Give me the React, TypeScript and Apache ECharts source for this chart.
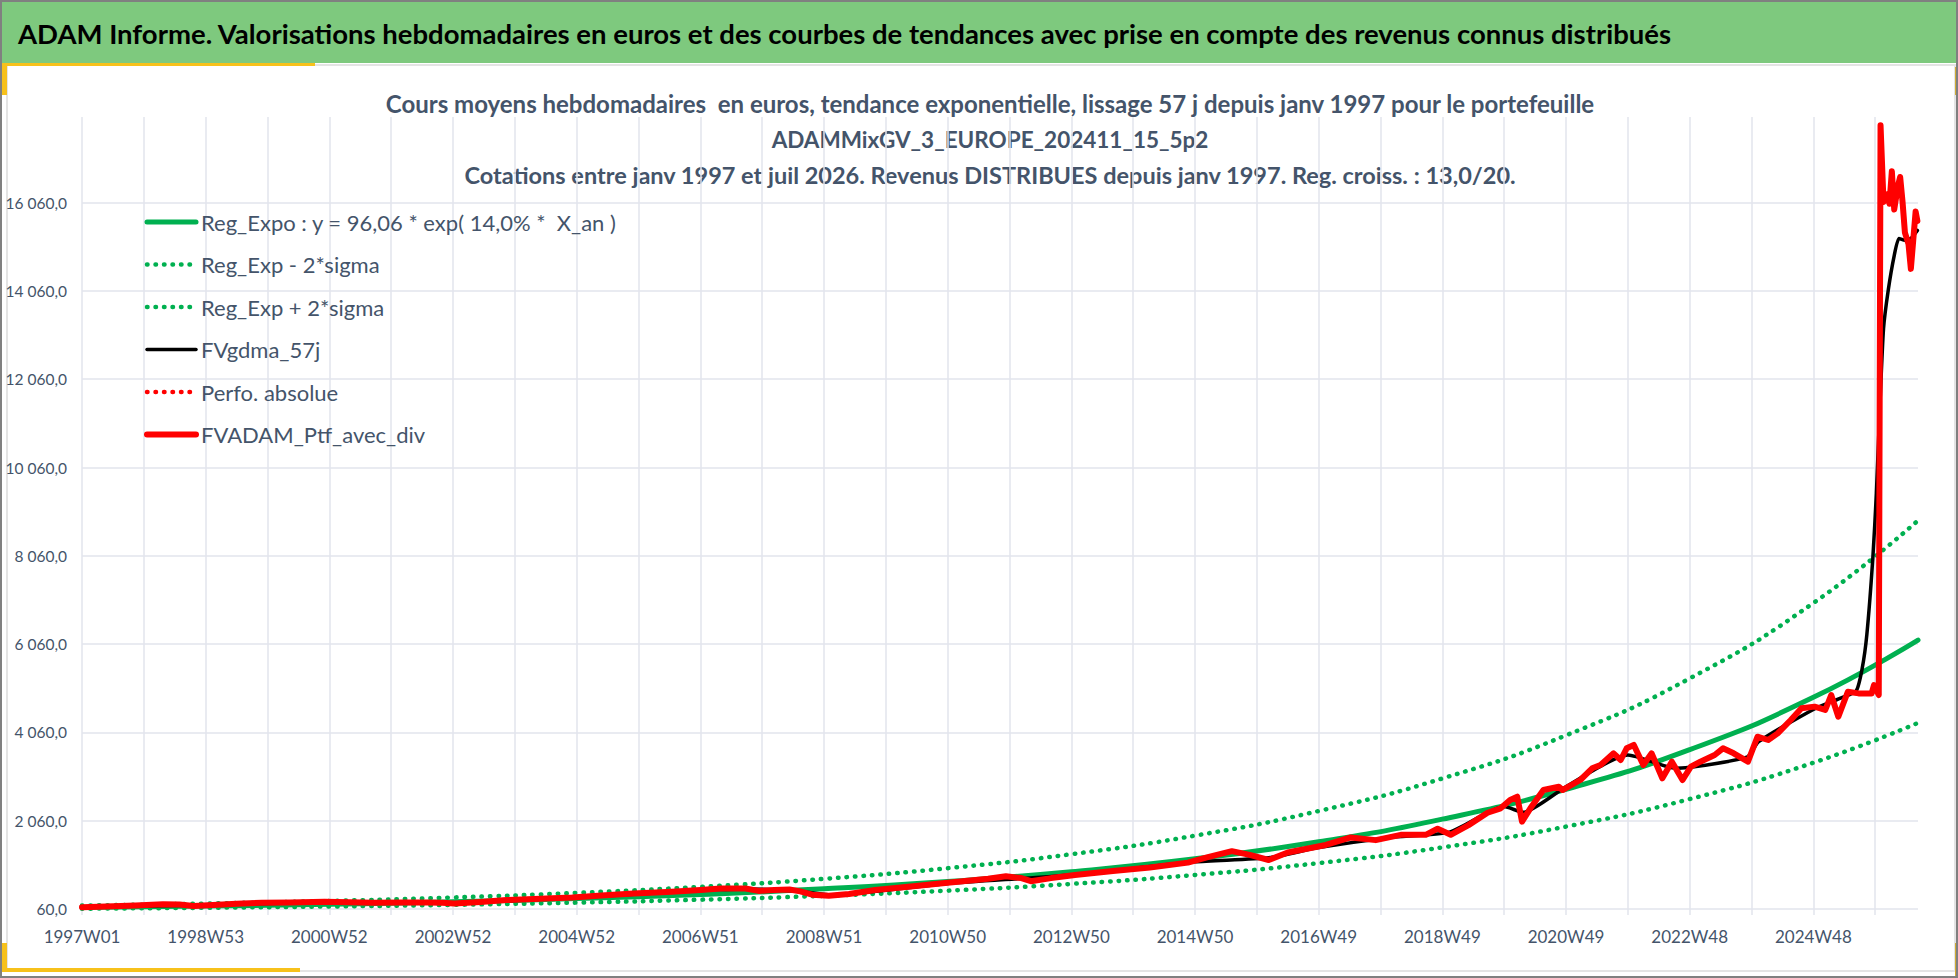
import React, { useEffect, useRef } from "react";
import * as echarts from "echarts";

const FONT = "Lato, 'Open Sans', sans-serif";

const HEADER = "ADAM Informe. Valorisations hebdomadaires en euros et des courbes de tendances avec prise en compte des revenus connus distribués";
const SUBTITLE = [
  "Cours moyens hebdomadaires  en euros, tendance exponentielle, lissage 57 j depuis janv 1997 pour le portefeuille",
  "ADAMMixGV_3_EUROPE_202411_15_5p2",
  "Cotations entre janv 1997 et juil 2026. Revenus DISTRIBUES depuis janv 1997. Reg. croiss. : 13,0/20.",
];

const X_LABELS = [
  "1997W01", "1998W53", "2000W52", "2002W52", "2004W52", "2006W51", "2008W51", "2010W50",
  "2012W50", "2014W50", "2016W49", "2018W49", "2020W49", "2022W48", "2024W48",
];
const X_LABEL_WEEKS = [0, 104, 208, 312, 416, 520, 624, 728, 832, 936, 1040, 1144, 1248, 1352, 1456];
const X_GRID_WEEKS = [
  0, 52, 104, 156, 208, 260, 312, 364, 416, 468, 520, 572, 624, 676, 728, 780, 832, 884, 936, 988,
  1040, 1092, 1144, 1196, 1248, 1300, 1352, 1404, 1456, 1508,
];
const X_MAX = 1544;
const Y_TICKS = [60, 2060, 4060, 6060, 8060, 10060, 12060, 14060, 16060];
const Y_MIN = 60;
const Y_MAX = 18000;

const NAMES = [
  "Reg_Expo : y = 96,06 * exp( 14,0% *  X_an )",
  "Reg_Exp - 2*sigma",
  "Reg_Exp + 2*sigma",
  "FVgdma_57j",
  "Perfo. absolue",
  "FVADAM_Ptf_avec_div",
];

// trend curves (week index, value)
const TREND_WEEKS = [0, 104, 208, 312, 416, 520, 624, 728, 832, 936, 1040, 1144, 1248, 1352, 1456, 1544];
const REG_EXPO = [96, 127, 168, 223, 295, 390, 516, 683, 904, 1196, 1583, 2095, 2773, 3669, 4855, 6150];
const REG_MINUS = [67, 88, 117, 155, 205, 271, 359, 475, 628, 831, 1100, 1456, 1927, 2550, 3374, 4275];
const REG_PLUS = [138, 183, 242, 321, 425, 562, 743, 984, 1302, 1722, 2280, 3017, 3993, 5283, 6991, 8860];

const FVGDMA: [number, number][] = [
  [0, 100], [104, 150], [208, 215], [312, 200], [416, 320], [520, 480], [560, 515], [600, 470],
  [630, 380], [728, 640], [832, 830], [936, 1130], [998, 1220], [1040, 1450], [1100, 1680],
  [1150, 1800], [1196, 2380], [1212, 2250], [1248, 2830], [1300, 3550], [1340, 3250], [1400, 3500],
  [1410, 3850], [1456, 4580], [1480, 4850], [1492, 5000], [1497, 5500], [1501, 6280], [1506, 8000],
  [1509, 9480], [1512, 11480], [1515, 13200], [1519, 14080], [1524, 14860], [1528, 15250],
  [1533, 15210], [1538, 15250], [1543.5, 15430],
];

const FVADAM: [number, number][] = [
  [0, 100], [20, 115], [45, 140], [68, 165], [82, 160], [94, 128], [110, 150], [130, 180], [151, 200],
  [175, 210], [204, 225], [225, 215], [245, 200], [270, 210], [290, 205], [303, 200], [313, 185],
  [335, 220], [357, 262], [385, 290], [412, 320], [440, 370], [464, 410], [496, 450], [520, 490],
  [537, 525], [558, 525], [569, 470], [582, 490], [595, 500], [604, 460], [614, 385], [628, 360],
  [645, 400], [667, 490], [699, 575], [730, 660], [762, 745], [777, 800], [790, 760], [798, 690],
  [815, 760], [835, 830], [867, 920], [898, 1000], [930, 1110], [946, 1230], [967, 1370], [982, 1285],
  [998, 1170], [1014, 1340], [1046, 1510], [1067, 1680], [1088, 1620], [1109, 1740], [1130, 1740],
  [1140, 1880], [1151, 1740], [1166, 1960], [1182, 2240], [1193, 2341], [1201, 2529], [1207, 2604],
  [1211, 2038], [1218, 2341], [1229, 2755], [1242, 2830], [1245, 2755], [1260, 2982], [1270, 3247],
  [1277, 3322], [1288, 3586], [1294, 3435], [1299, 3700], [1305, 3775], [1313, 3322], [1320, 3586],
  [1329, 3020], [1337, 3397], [1346, 2982], [1353, 3284], [1361, 3397], [1373, 3548], [1380, 3700],
  [1389, 3586], [1401, 3397], [1409, 3963], [1418, 3888], [1426, 4039], [1437, 4341], [1446, 4606],
  [1457, 4644], [1466, 4568], [1471, 4907], [1477, 4416], [1485, 4982], [1494, 4944], [1505, 4944],
  [1507, 5133], [1511, 4907], [1512.5, 17812], [1515, 16077], [1518, 16250], [1520, 16034],
  [1522, 16771], [1524, 15904], [1527, 16424], [1529, 16641], [1531, 16077], [1533, 15383],
  [1536, 15123], [1538, 14560], [1540, 15210], [1542, 15860], [1543.5, 15643],
];
const PERFO_ABS: [number, number][] = [];

const GREEN = "#00b050";
const TEXT = "#44546a";
const GRID = "#e2e5ec";
const YELLOW = "#f7c11b";

function fmtY(v: number): string {
  const s = v.toFixed(1);
  const [i, d] = s.split(".");
  return i.replace(/\B(?=(\d{3})+(?!\d))/g, " ") + "," + d;
}

function pairs(weeks: number[], vals: number[]): [number, number][] {
  return weeks.map((w, k) => [w, vals[k]]);
}

export default function App() {
  const ref = useRef<HTMLDivElement>(null);
  useEffect(() => {
    document.body.style.margin = "0";
    const chart = echarts.init(ref.current!, null, { renderer: "svg" });
    const dotted = (name: string, data: [number, number][], color: string) => ({
      name,
      type: "line",
      data,
      smooth: true,
      symbol: "none",
      lineStyle: { color, width: 4.5, type: [0.5, 8], cap: "round" },
      itemStyle: { color },
    });
    const solid = (name: string, data: [number, number][], color: string, width: number, smooth: any) => ({
      name,
      type: "line",
      data,
      smooth,
      symbol: "none",
      lineStyle: { color, width, cap: "round", join: "round" },
      itemStyle: { color },
    });
    const subtitleY = [103, 139, 175];
    const subtitleSize = [24, 22.5, 23.5];
    chart.setOption({
      animation: false,
      backgroundColor: "#ffffff",
      graphic: [
        { type: "rect", z: -10, shape: { x: 0, y: 0, width: 1958, height: 63 }, style: { fill: "#7ec97e" } },
        { type: "rect", z: -9, shape: { x: 7, y: 65, width: 1948, height: 906 }, style: { fill: "none", stroke: "#e4e4e4", lineWidth: 2 } },
        { type: "rect", z: -8, shape: { x: 0, y: 63, width: 315, height: 3 }, style: { fill: YELLOW } },
        { type: "rect", z: -8, shape: { x: 0, y: 63, width: 7, height: 32 }, style: { fill: YELLOW } },
        { type: "rect", z: -8, shape: { x: 1955, y: 67, width: 3, height: 28 }, style: { fill: "#d2ac35" } },
        { type: "rect", z: -8, shape: { x: 0, y: 943, width: 7, height: 29 }, style: { fill: YELLOW } },
        { type: "rect", z: -8, shape: { x: 0, y: 968, width: 300, height: 4 }, style: { fill: YELLOW } },
        { type: "rect", z: -8, shape: { x: 1955, y: 943, width: 3, height: 33 }, style: { fill: "#d2ac35" } },
        { type: "rect", z: -7, shape: { x: 1, y: 1, width: 1956, height: 976 }, style: { fill: "none", stroke: "#808080", lineWidth: 2 } },
        {
          type: "text", x: 18, y: 33,
          style: { text: HEADER, fill: "#000000", font: `bold 27.5px ${FONT}`, verticalAlign: "middle", align: "left" },
        },
        ...SUBTITLE.map((t, k) => ({
          type: "text", x: 990, y: subtitleY[k],
          style: { text: t, fill: TEXT, font: `bold ${subtitleSize[k]}px ${FONT}`, verticalAlign: "middle", align: "center" },
        })),
      ],
      legend: {
        orient: "vertical",
        left: 139,
        top: 206,
        itemWidth: 49,
        itemHeight: 14,
        itemGap: 20.5,
        selectedMode: false,
        itemStyle: { opacity: 0 },
        lineStyle: { width: "inherit" },
        textStyle: { fontSize: 22, color: TEXT, fontFamily: FONT, lineHeight: 21 },
        data: NAMES,
      },
      grid: { left: 82, right: 40, top: 117, bottom: 69, containLabel: false, outerBoundsMode: "none" },
      xAxis: {
        type: "value",
        min: 0,
        max: X_MAX,
        axisLine: { show: false },
        axisTick: { show: true, length: 6, lineStyle: { color: GRID, width: 1.5 }, customValues: X_GRID_WEEKS },
        splitLine: { show: true, lineStyle: { color: GRID, width: 1.5 } },
        axisLabel: {
          customValues: X_LABEL_WEEKS,
          margin: 19,
          fontSize: 17,
          color: TEXT,
          fontFamily: FONT,
          formatter: (v: number) => X_LABELS[X_LABEL_WEEKS.indexOf(Math.round(v))] ?? "",
        },
      },
      yAxis: {
        type: "value",
        min: Y_MIN,
        max: Y_MAX,
        axisLine: { show: false },
        axisTick: { show: false, customValues: Y_TICKS },
        splitLine: { show: true, lineStyle: { color: GRID, width: 1.5 } },
        axisLabel: {
          customValues: Y_TICKS,
          margin: 15,
          fontSize: 15.5,
          color: TEXT,
          fontFamily: FONT,
          formatter: (v: number) => fmtY(v),
        },
      },
      series: [
        solid(NAMES[0], pairs(TREND_WEEKS, REG_EXPO), GREEN, 5, true),
        dotted(NAMES[1], pairs(TREND_WEEKS, REG_MINUS), GREEN),
        dotted(NAMES[2], pairs(TREND_WEEKS, REG_PLUS), GREEN),
        solid(NAMES[3], FVGDMA, "#000000", 3.5, 0.2),
        dotted(NAMES[4], PERFO_ABS, "#ff0000"),
        solid(NAMES[5], FVADAM, "#ff0000", 6, false),
      ],
    });
    return () => chart.dispose();
  }, []);
  return <div ref={ref} style={{ position: "fixed", left: 0, top: 0, width: 1958, height: 978 }} />;
}
